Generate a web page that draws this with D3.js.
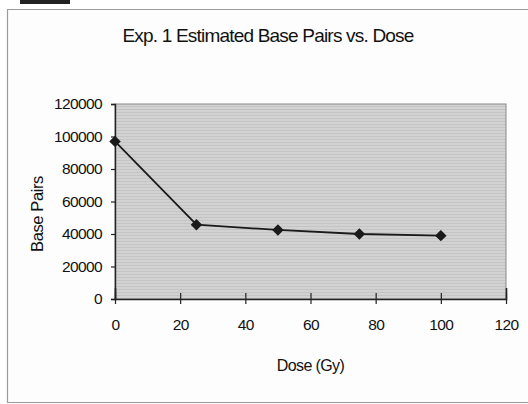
<!DOCTYPE html>
<html>
<head>
<meta charset="utf-8">
<script src="https://cdn.jsdelivr.net/npm/d3@7"></script>
<style>
  body { margin: 0; background: #fff; }
  text { font-family: "Liberation Sans", Arial, sans-serif; fill: #111; }
</style>
</head>
<body>
<svg id="chart" width="528" height="404"></svg>
<script>
// data
var doses = [0, 25, 50, 75, 100]
var basePairs = [97000, 45700, 42500, 40000, 39000]
var xTicks = [0, 20, 40, 60, 80, 100, 120]
var yTicks = [0, 20000, 40000, 60000, 80000, 100000, 120000]
var title = "Exp. 1 Estimated Base Pairs vs. Dose"
var xLabel = "Dose (Gy)"
var yLabel = "Base Pairs"

var svg = d3.select("#chart")
var plot = { left: 115, right: 506, top: 104, bottom: 299 }

var x = d3.scaleLinear().domain([0, 120]).range([plot.left, plot.right])
var y = d3.scaleLinear().domain([0, 120000]).range([plot.bottom, plot.top])

// scan leftovers: black tab and the chart frame (no right edge)
svg.append("rect")
  .attr("x", 20).attr("y", 0).attr("width", 50).attr("height", 4)
  .attr("fill", "#222")
svg.append("rect")
  .attr("x", 7).attr("y", 9).attr("width", 521).attr("height", 394)
  .attr("fill", "#fdfdfd")
svg.append("path")
  .attr("d", "M528,9.5H7.5V402.5H528")
  .attr("fill", "none")
  .attr("stroke", "#9a9a9a").attr("stroke-width", 1.2)

// striped grey plot area
var defs = svg.append("defs")
var pat = defs.append("pattern")
  .attr("id", "stripes")
  .attr("patternUnits", "userSpaceOnUse")
  .attr("width", 4).attr("height", 3)
pat.append("rect").attr("width", 4).attr("height", 3).attr("fill", "#d2d2d2")
pat.append("rect").attr("y", 1).attr("width", 4).attr("height", 1).attr("fill", "#c4c4c4")

svg.append("rect")
  .attr("x", plot.left).attr("y", plot.top)
  .attr("width", plot.right - plot.left)
  .attr("height", plot.bottom - plot.top)
  .attr("fill", "url(#stripes)")
  .attr("stroke", "#8a8a8a").attr("stroke-width", 1)

// axes
var xAxis = svg.append("g")
  .attr("transform", "translate(0," + plot.bottom + ")")
  .call(d3.axisBottom(x).tickValues(xTicks).tickSize(-11).tickPadding(20).tickFormat(d3.format("d")))
xAxis.select(".domain").attr("stroke", "#222").attr("stroke-width", 1.6)
xAxis.selectAll(".tick line").attr("stroke", "#222").attr("stroke-width", 1.2)
  .attr("transform", "translate(0,5)")
xAxis.selectAll("text").attr("font-size", 15.5).attr("fill", "#111")
  .attr("font-family", "Liberation Sans, Arial, sans-serif")
  .attr("letter-spacing", -0.6)

var yAxis = svg.append("g")
  .attr("transform", "translate(" + plot.left + ",0)")
  .call(d3.axisLeft(y).tickValues(yTicks).tickSize(4).tickPadding(9).tickFormat(d3.format("d")))
yAxis.select(".domain").attr("stroke", "#222").attr("stroke-width", 1.4)
yAxis.selectAll(".tick line").attr("stroke", "#222").attr("stroke-width", 1.2)
yAxis.selectAll("text").attr("font-size", 15.5).attr("fill", "#111")
  .attr("font-family", "Liberation Sans, Arial, sans-serif")
  .attr("letter-spacing", -0.6)

// line + diamond markers
var line = d3.line()
  .x((d, i) => x(doses[i]))
  .y(d => y(d))

svg.append("path")
  .datum(basePairs)
  .attr("d", line)
  .attr("fill", "none")
  .attr("stroke", "#1a1a1a")
  .attr("stroke-width", 1.8)

svg.selectAll(".marker")
  .data(basePairs)
  .enter()
  .append("path")
  .attr("class", "marker")
  .attr("d", d3.symbol().type(d3.symbolSquare).size(66))
  .attr("transform", (d, i) => "translate(" + x(doses[i]) + "," + y(d) + ") rotate(45)")
  .attr("fill", "#1a1a1a")

// titles
svg.append("text")
  .attr("x", 268).attr("y", 42)
  .attr("text-anchor", "middle")
  .attr("font-size", 19)
  .attr("letter-spacing", -0.8)
  .text(title)

svg.append("text")
  .attr("x", (plot.left + plot.right) / 2).attr("y", 371)
  .attr("text-anchor", "middle")
  .attr("font-size", 16)
  .attr("letter-spacing", -0.6)
  .text(xLabel)

svg.append("text")
  .attr("transform", "translate(43,214) rotate(-90)")
  .attr("text-anchor", "middle")
  .attr("font-size", 16.5)
  .attr("letter-spacing", -0.4)
  .text(yLabel)
</script>
</body>
</html>
